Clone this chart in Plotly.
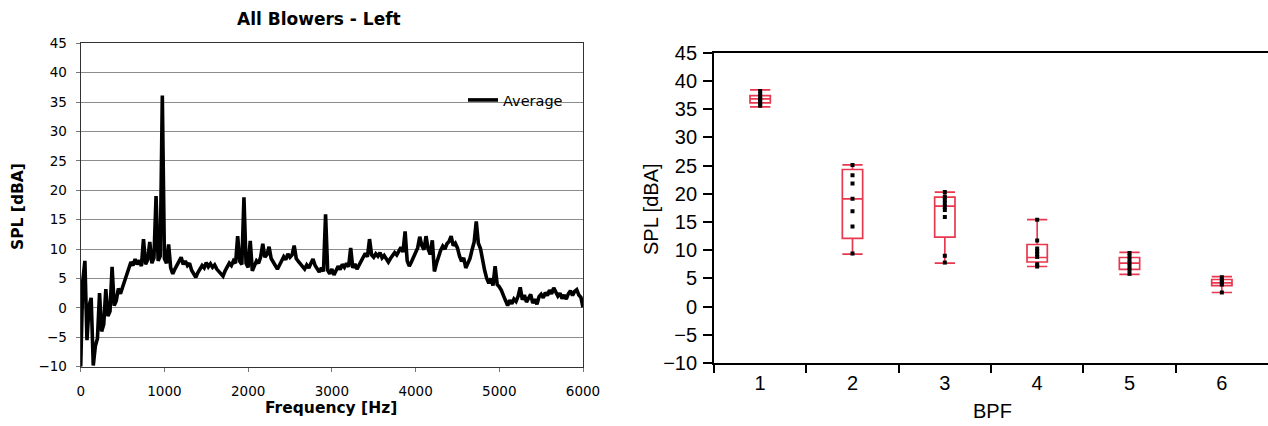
import plotly.graph_objects as go

# ---- Left panel: averaged spectrum of all blowers (25 Hz bins) ----
freq_hz = [
    0, 25, 50, 75, 100, 125, 150, 175,
    200, 225, 250, 275, 300, 325, 350, 375,
    400, 425, 450, 475, 500, 525, 550, 575,
    600, 625, 650, 675, 700, 725, 750, 775,
    800, 825, 850, 875, 900, 925, 950, 975,
    1000, 1025, 1050, 1075, 1100, 1125, 1150, 1175,
    1200, 1225, 1250, 1275, 1300, 1325, 1350, 1375,
    1400, 1425, 1450, 1475, 1500, 1525, 1550, 1575,
    1600, 1625, 1650, 1675, 1700, 1725, 1750, 1775,
    1800, 1825, 1850, 1875, 1900, 1925, 1950, 1975,
    2000, 2025, 2050, 2075, 2100, 2125, 2150, 2175,
    2200, 2225, 2250, 2275, 2300, 2325, 2350, 2375,
    2400, 2425, 2450, 2475, 2500, 2525, 2550, 2575,
    2600, 2625, 2650, 2675, 2700, 2725, 2750, 2775,
    2800, 2825, 2850, 2875, 2900, 2925, 2950, 2975,
    3000, 3025, 3050, 3075, 3100, 3125, 3150, 3175,
    3200, 3225, 3250, 3275, 3300, 3325, 3350, 3375,
    3400, 3425, 3450, 3475, 3500, 3525, 3550, 3575,
    3600, 3625, 3650, 3675, 3700, 3725, 3750, 3775,
    3800, 3825, 3850, 3875, 3900, 3925, 3950, 3975,
    4000, 4025, 4050, 4075, 4100, 4125, 4150, 4175,
    4200, 4225, 4250, 4275, 4300, 4325, 4350, 4375,
    4400, 4425, 4450, 4475, 4500, 4525, 4550, 4575,
    4600, 4625, 4650, 4675, 4700, 4725, 4750, 4775,
    4800, 4825, 4850, 4875, 4900, 4925, 4950, 4975,
    5000, 5025, 5050, 5075, 5100, 5125, 5150, 5175,
    5200, 5225, 5250, 5275, 5300, 5325, 5350, 5375,
    5400, 5425, 5450, 5475, 5500, 5525, 5550, 5575,
    5600, 5625, 5650, 5675, 5700, 5725, 5750, 5775,
    5800, 5825, 5850, 5875, 5900, 5925, 5950, 5975,
    6000,
]
spl_avg = [
    -10.0, 4.6, 8.0, -5.5, 0.3, 1.7, -9.8, -6.5,
    -5.2, 2.5, -4.0, -2.8, 3.2, -1.4, -0.6, 7.0,
    0.4, 1.2, 3.3, 2.4, 3.5, 4.6, 5.8, 7.0,
    7.8, 7.2, 8.3, 7.4, 8.1, 7.1, 11.7, 7.4,
    8.2, 11.2, 7.6, 8.5, 19.0, 8.0, 8.8, 36.1,
    8.4, 7.6, 10.8, 6.8, 5.8, 6.6, 7.3, 7.9,
    8.6, 7.4, 8.0, 7.2, 7.6, 6.4, 5.9, 5.2,
    6.0, 6.6, 7.2, 6.8, 7.7, 7.0, 7.5, 6.9,
    7.3, 6.6, 6.2, 5.6, 5.4, 6.3, 7.0, 7.6,
    7.2, 8.0, 7.6, 12.2, 7.9, 7.4, 18.8, 7.6,
    6.9, 11.4, 6.3, 7.0, 8.0, 7.6, 8.7, 10.9,
    8.6, 9.1, 10.4, 8.4, 7.8, 7.0, 6.6, 7.3,
    8.0, 8.7, 8.2, 9.2, 8.6, 9.0, 10.6, 8.4,
    7.9, 7.4, 7.0, 6.6, 7.3, 6.8, 7.6, 8.3,
    7.2, 6.5, 6.1, 6.8, 6.2, 15.9, 6.4, 5.8,
    6.6, 5.6, 6.3, 7.1, 6.5, 7.4, 6.9, 7.6,
    7.0, 10.2, 6.8, 7.5, 6.6, 7.2, 7.9, 8.6,
    9.3, 8.7, 11.7, 9.0, 8.6, 9.2, 8.8, 9.4,
    8.5, 8.9, 8.2, 7.8, 8.4, 8.9, 9.4, 9.0,
    9.8, 10.3, 9.5, 13.0, 8.0, 7.1, 7.8, 8.6,
    9.4, 10.2, 12.1, 10.6, 9.9, 12.2, 10.0, 9.1,
    11.5, 6.2, 7.6, 8.8, 9.8, 10.5, 10.0, 10.9,
    11.3, 12.2, 10.6, 11.0, 10.2, 8.8, 7.9, 8.5,
    6.8, 7.6, 8.4, 9.9, 11.2, 14.7, 11.0, 10.1,
    8.0, 6.4, 5.0, 4.2, 5.0, 3.8, 7.1, 4.0,
    3.6, 3.0, 2.1, 1.2, 0.4, 1.3, 0.7, 1.5,
    1.1, 2.0, 3.5, 1.4, 2.2, 1.0, 1.8, 2.3,
    0.8, 1.5, 0.6, 1.9, 2.3, 1.7, 2.6, 2.1,
    3.0, 2.4, 3.4, 2.6, 2.0, 2.5, 1.6, 2.2,
    1.5, 2.4, 2.9, 2.1, 2.8, 3.1, 2.2, 1.8,
    0.1,
]

# ---- Right panel: SPL at blade-pass-frequency harmonics ----
bpf_labels = ["1", "2", "3", "4", "5", "6"]
bpf_upper = [38.4, 25.1, 20.3, 15.4, 9.6, 5.3]
bpf_q3 = [37.4, 24.3, 19.4, 11.0, 8.7, 4.8]
bpf_median = [36.8, 19.1, 17.8, 8.7, 7.7, 4.2]
bpf_q1 = [36.1, 12.1, 12.3, 7.9, 6.6, 3.7]
bpf_lower = [35.4, 9.3, 7.7, 7.1, 5.7, 2.5]
bpf_samples = [
    [38.2, 37.7, 37.2, 36.8, 36.4, 36.0, 35.6],
    [25.1, 23.3, 21.8, 19.1, 16.9, 14.2, 9.4],
    [20.3, 19.5, 18.9, 18.3, 17.7, 17.1, 15.9, 9.0, 7.8],
    [15.4, 11.7, 10.3, 9.8, 9.3, 8.8, 7.5, 7.1],
    [9.5, 8.9, 8.3, 7.7, 7.1, 6.5, 5.8],
    [5.2, 4.7, 4.3, 3.9, 2.5],
]

W, H = 1268, 426
LEFT_FONT = "DejaVu Sans"
RIGHT_FONT = "Liberation Sans, Arial"
BOX_RED = "#e8384f"

fig = go.Figure()

fig.add_trace(go.Scatter(
    x=freq_hz, y=spl_avg, mode="lines", name="Average",
    line=dict(color="black", width=3.6),
    xaxis="x", yaxis="y", showlegend=True,
))

fig.add_trace(go.Box(
    x=bpf_labels, q1=bpf_q1, median=bpf_median, q3=bpf_q3,
    lowerfence=bpf_lower, upperfence=bpf_upper,
    boxpoints=False, width=0.22, whiskerwidth=1,
    line=dict(color=BOX_RED, width=1.7), fillcolor="rgba(0,0,0,0)",
    xaxis="x2", yaxis="y2", showlegend=False, hoverinfo="skip",
))

pts_x, pts_y = [], []
for lab, vals in zip(bpf_labels, bpf_samples):
    pts_x += [lab] * len(vals)
    pts_y += vals
fig.add_trace(go.Scatter(
    x=pts_x, y=pts_y, mode="markers",
    marker=dict(symbol="square", size=4, color="black", line=dict(width=0)),
    xaxis="x2", yaxis="y2", showlegend=False,
))

def px_x(v):
    return v / W

def px_y(v):
    return 1 - v / H

fig.update_layout(
    width=W, height=H, autosize=False,
    margin=dict(l=0, r=0, t=0, b=0, autoexpand=False),
    paper_bgcolor="white", plot_bgcolor="white",
    showlegend=True,
    legend=dict(
        x=px_x(463), y=px_y(84), xanchor="left", yanchor="top",
        bgcolor="rgba(0,0,0,0)", borderwidth=0,
        font=dict(family=LEFT_FONT, size=14.5, color="black"),
        itemwidth=30,
    ),
    xaxis=dict(
        domain=[px_x(80.7), px_x(583)], range=[0, 6000], automargin=False,
        tickmode="array", tickvals=[0, 1000, 2000, 3000, 4000, 5000, 6000],
        ticks="outside", ticklen=4, tickcolor="#777", ticklabelstandoff=8,
        showgrid=False, zeroline=False,
        showline=True, linecolor="#333", linewidth=1.2, mirror=True,
        tickfont=dict(family=LEFT_FONT, size=13.5, color="black"),
        anchor="y",
    ),
    yaxis=dict(
        domain=[px_y(366.7), px_y(43.3)], range=[-10, 45], automargin=False,
        tickmode="array", tickvals=list(range(-10, 46, 5)),
        ticks="outside", ticklen=4, tickcolor="#777", ticklabelstandoff=6,
        showgrid=True, gridcolor="#8c8c8c", gridwidth=1, zeroline=False,
        showline=True, linecolor="#333", linewidth=1.2, mirror=True,
        tickfont=dict(family=LEFT_FONT, size=13.5, color="black"),
        anchor="x",
    ),
    xaxis2=dict(
        domain=[px_x(714), 1.0], type="category", automargin=False,
        categoryorder="array", categoryarray=bpf_labels,
        range=[-0.5, 5.5],
        ticks="outside", tickson="boundaries", ticklen=8, tickwidth=1.6,
        tickcolor="black", ticklabelstandoff=1,
        showgrid=False, zeroline=False,
        showline=True, linecolor="black", linewidth=1.8, mirror=True,
        tickfont=dict(family=RIGHT_FONT, size=20, color="black"),
        anchor="y2",
    ),
    yaxis2=dict(
        domain=[px_y(363), px_y(52.7)], range=[-10, 45], automargin=False,
        tickmode="array", tickvals=list(range(-10, 46, 5)),
        ticks="outside", ticklen=9, tickwidth=1.6, tickcolor="black",
        ticklabelstandoff=2,
        showgrid=False, zeroline=False,
        showline=True, linecolor="black", linewidth=1.8,
        tickfont=dict(family=RIGHT_FONT, size=20, color="black"),
        anchor="x2",
    ),
    annotations=[
        dict(text="<b>All Blowers - Left</b>", x=px_x(319), y=px_y(19),
             xref="paper", yref="paper", showarrow=False,
             xanchor="center", yanchor="middle",
             font=dict(family=LEFT_FONT, size=17, color="black")),
        dict(text="<b>SPL [dBA]</b>", x=px_x(18), y=px_y(207),
             xref="paper", yref="paper", showarrow=False, textangle=-90,
             xanchor="center", yanchor="middle",
             font=dict(family=LEFT_FONT, size=15.5, color="black")),
        dict(text="<b>Frequency [Hz]</b>", x=px_x(331), y=px_y(408),
             xref="paper", yref="paper", showarrow=False,
             xanchor="center", yanchor="middle",
             font=dict(family=LEFT_FONT, size=15.5, color="black")),
        dict(text="SPL [dBA]", x=px_x(651), y=px_y(209),
             xref="paper", yref="paper", showarrow=False, textangle=-90,
             xanchor="center", yanchor="middle",
             font=dict(family=RIGHT_FONT, size=20, color="black")),
        dict(text="BPF", x=px_x(992), y=px_y(411),
             xref="paper", yref="paper", showarrow=False,
             xanchor="center", yanchor="middle",
             font=dict(family=RIGHT_FONT, size=20, color="black")),
    ],
)

fig.write_html("out.html")
